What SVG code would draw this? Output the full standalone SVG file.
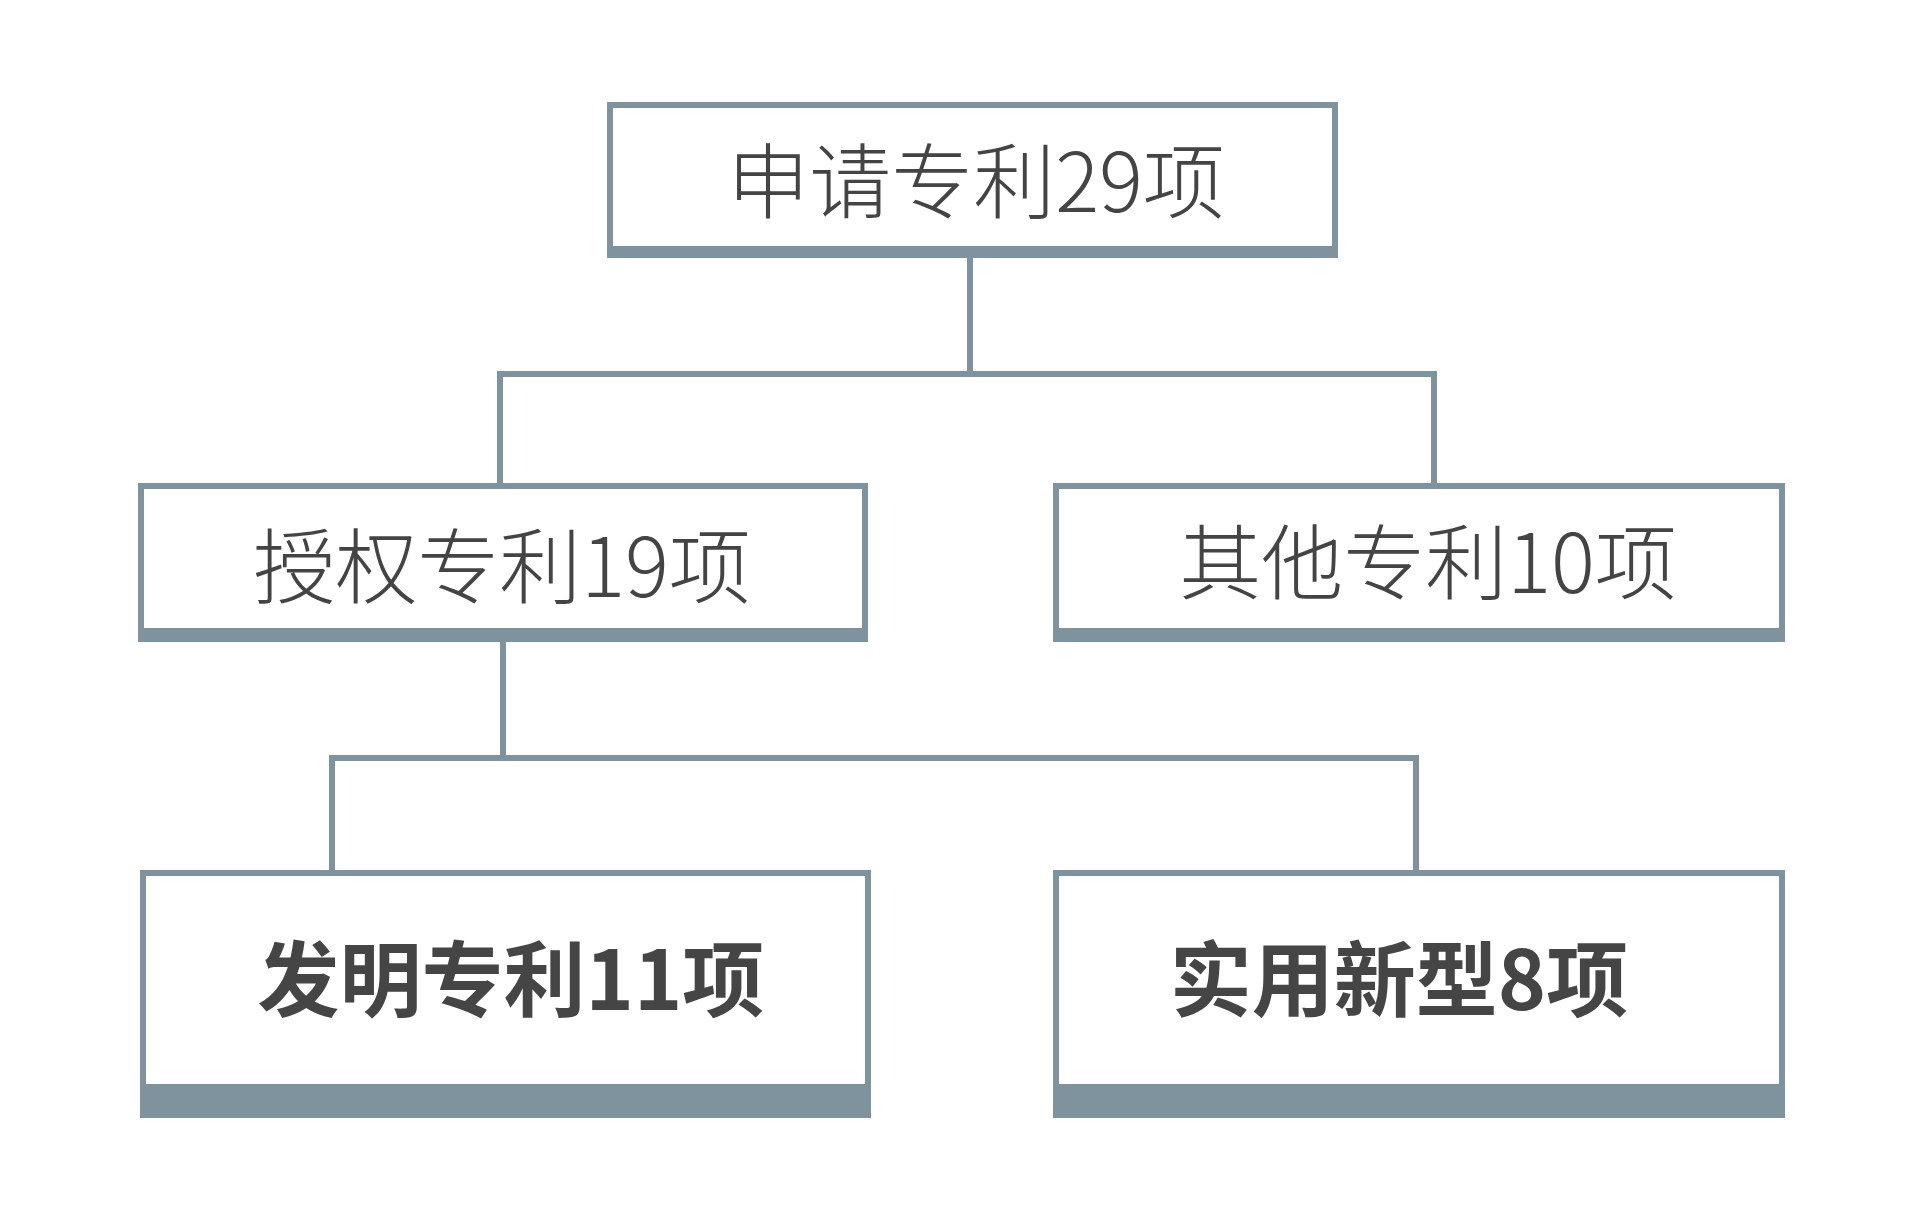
<svg xmlns="http://www.w3.org/2000/svg" width="1920" height="1222" viewBox="0 0 1920 1222">
<style>
.box{fill:#ffffff;stroke:#7f939e;stroke-width:6}
.band{fill:#7f939e}
.line{fill:none;stroke:#7f939e;stroke-width:6}
.t{font-family:"Noto Sans CJK SC","Noto Sans",sans-serif;font-size:82px;font-weight:300;fill:#444444;text-anchor:middle}
.b{font-weight:700;fill:#454545}
</style>
<rect width="1920" height="1222" fill="#ffffff"/>
<g id="connectors">
<path class="line" d="M970 258V374M500 483V374H1434V483"/>
<path class="line" d="M503 642V758M332 870V758H1416V870"/>
</g>
<g id="node-root">
<rect class="box" x="610" y="105" width="725" height="150"/>
<rect class="band" x="607" y="246" width="731" height="12"/>
<text class="t" x="976" y="212">申请专利29项</text>
</g>
<g id="node-granted">
<rect class="box" x="141" y="486" width="724" height="153"/>
<rect class="band" x="138" y="628" width="730" height="14"/>
<text class="t" x="502" y="597">授权专利19项</text>
</g>
<g id="node-other">
<rect class="box" x="1056" y="486" width="726" height="153"/>
<rect class="band" x="1053" y="628" width="732" height="14"/>
<text class="t" x="1428" y="593">其他专利10项</text>
</g>
<g id="node-invention">
<rect class="box" x="143" y="873" width="725" height="242"/>
<rect class="band" x="140" y="1084" width="731" height="34"/>
<text class="t b" x="511" y="1010">发明专利11项</text>
</g>
<g id="node-utility">
<rect class="box" x="1056" y="873" width="726" height="242"/>
<rect class="band" x="1053" y="1084" width="732" height="34"/>
<text class="t b" x="1399" y="1010">实用新型8项</text>
</g>
</svg>
